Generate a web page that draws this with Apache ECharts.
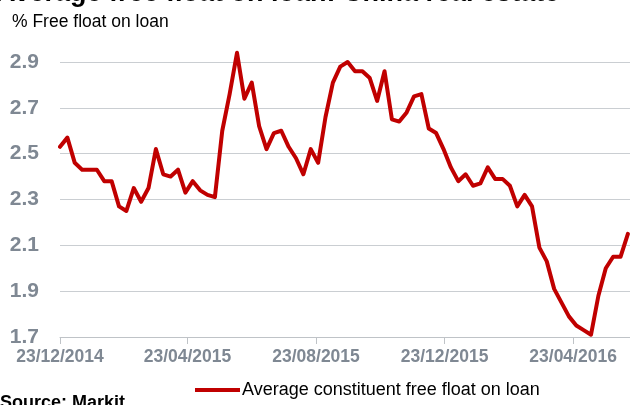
<!DOCTYPE html>
<html>
<head>
<meta charset="utf-8">
<script src="https://cdn.jsdelivr.net/npm/echarts@6/dist/echarts.min.js"></script>
<style>
html,body{margin:0;padding:0;background:#fff;}
#chart{width:630px;height:405px;}
</style>
</head>
<body>
<div id="chart"></div>
<script>
// Weekly observations; x = days since 23/12/2014
const weekDays = 7;

const freeFloatOnLoan = [
  2.53, 2.57, 2.46, 2.43, 2.43, 2.43, 2.38, 2.38, 2.27, 2.25,
  2.35, 2.29, 2.35, 2.52, 2.41, 2.40, 2.43, 2.33, 2.38, 2.34,
  2.32, 2.31, 2.60, 2.76, 2.94, 2.74, 2.81, 2.62, 2.52, 2.59,
  2.60, 2.53, 2.48, 2.41, 2.52, 2.46, 2.66, 2.81, 2.88, 2.90,
  2.86, 2.86, 2.83, 2.73, 2.86, 2.65, 2.64, 2.68, 2.75, 2.76,
  2.61, 2.59, 2.52, 2.44, 2.38, 2.41, 2.36, 2.37, 2.44, 2.39,
  2.39, 2.36, 2.27, 2.32, 2.27, 2.09, 2.03, 1.91, 1.85, 1.79,
  1.75, 1.73, 1.71, 1.88, 2.00, 2.05, 2.05, 2.15
];

// tick positions in days since 23/12/2014
const tickDays = [0, 121, 243, 365, 487];
const tickLabels = ['23/12/2014', '23/04/2015', '23/08/2015', '23/12/2015', '23/04/2016'];

const seriesName = 'Average constituent free float on loan';
const titleText = 'Average free float on loan: China real estate';
const yAxisTitle = '% Free float on loan';
const sourceText = 'Source: Markit';

const seriesData = freeFloatOnLoan.map((v, i) => [i * weekDays, v]);
const lastDay = (freeFloatOnLoan.length - 1) * weekDays;

const chart = echarts.init(document.getElementById('chart'), null, {renderer: 'canvas'});
chart.setOption({
  animation: false,
  backgroundColor: '#ffffff',
  grid: {left: 60, right: 0, top: 62, bottom: 68, containLabel: false},
  xAxis: {
    type: 'value',
    min: 0,
    max: lastDay + 2,
    splitLine: {show: false},
    axisLine: {show: true, lineStyle: {color: '#bfc3c7', width: 1}},
    axisTick: {show: true, length: 7, lineStyle: {color: '#bfc3c7'}, customValues: tickDays},
    axisLabel: {
      customValues: tickDays,
      margin: 11,
      color: '#7f8893',
      fontFamily: 'Liberation Sans, Arial, sans-serif',
      fontWeight: 'bold',
      fontSize: 17.5,
      formatter: function (val) {
        const i = tickDays.indexOf(Math.round(val));
        return i >= 0 ? tickLabels[i] : '';
      }
    }
  },
  yAxis: {
    type: 'value',
    min: 1.7,
    max: 2.9,
    interval: 0.2,
    axisLine: {show: false},
    axisTick: {show: false},
    splitLine: {show: true, lineStyle: {color: '#caced2', width: 1}},
    axisLabel: {
      margin: 21,
      color: '#7f8893',
      fontFamily: 'Liberation Sans, Arial, sans-serif',
      fontWeight: 'bold',
      fontSize: 21,
      formatter: v => v.toFixed(1)
    }
  },
  legend: {
    left: 190,
    top: 376,
    icon: 'rect',
    itemWidth: 45,
    itemHeight: 4,
    textStyle: {color: '#000', fontSize: 18, fontFamily: 'Liberation Sans, Arial, sans-serif', padding: [0, 0, 0, -3]},
    data: [seriesName]
  },
  graphic: [
    {type: 'text', left: -4, top: -20, silent: true,
     style: {text: titleText, font: 'bold 27px "Liberation Sans", Arial, sans-serif', fill: '#000'}},
    {type: 'text', left: 12, top: 13, silent: true,
     style: {text: yAxisTitle, font: '17.5px "Liberation Sans", Arial, sans-serif', fill: '#000'}},
    {type: 'text', left: 0, top: 394, silent: true,
     style: {text: sourceText, font: 'bold 18px "Liberation Sans", Arial, sans-serif', fill: '#000'}}
  ],
  series: [{
    name: seriesName,
    type: 'line',
    data: seriesData,
    showSymbol: false,
    symbol: 'none',
    clip: false,
    smooth: false,
    lineStyle: {color: '#c00000', width: 4, join: 'round', cap: 'round'},
    itemStyle: {color: '#c00000'}
  }]
});
</script>
</body>
</html>
